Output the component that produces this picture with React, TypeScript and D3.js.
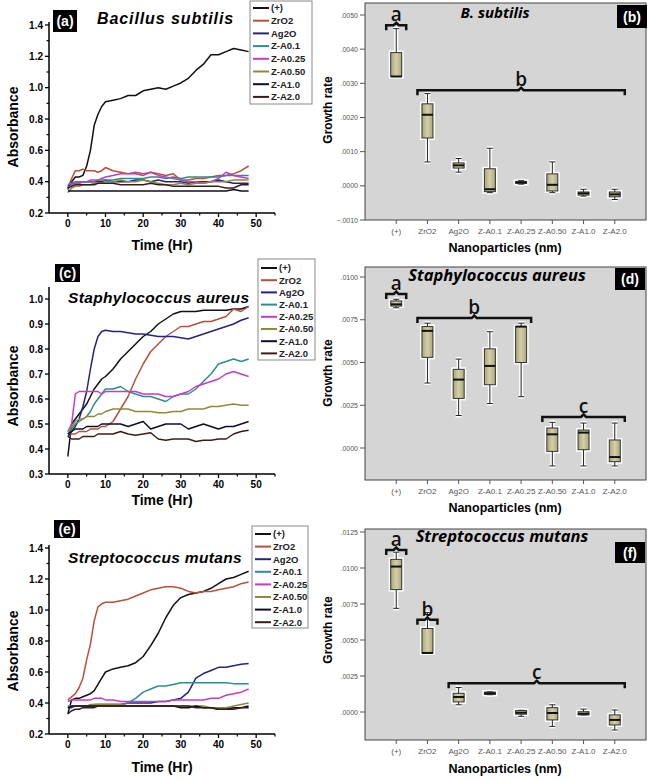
import React from "react";
import * as d3 from "d3";

// ---------- DATA ----------
const TIME = [0, 1, 2, 3, 4, 5, 6, 7, 8, 9, 10, 12, 14, 16, 18, 20, 22, 24, 26, 28, 30, 32, 34, 36, 38, 40, 42, 44, 46, 48];
const SERIES = ["(+)", "ZrO2", "Ag2O", "Z-A0.1", "Z-A0.25", "Z-A0.50", "Z-A1.0", "Z-A2.0"];
const COLORS = ["#111111", "#b5523b", "#24247c", "#2f8c8c", "#c43cc4", "#8c8a3c", "#0d0d2a", "#3b1c1c"];

// Bacillus subtilis absorbance
const A_POS = [0.35, 0.40, 0.43, 0.43, 0.44, 0.50, 0.60, 0.76, 0.83, 0.88, 0.91, 0.92, 0.93, 0.95, 0.95, 0.98, 0.99, 1.00, 0.99, 1.01, 1.03, 1.06, 1.11, 1.15, 1.21, 1.21, 1.23, 1.25, 1.24, 1.23];
const A_ZRO2 = [0.36, 0.42, 0.47, 0.47, 0.48, 0.47, 0.47, 0.47, 0.46, 0.47, 0.49, 0.47, 0.46, 0.45, 0.45, 0.44, 0.46, 0.45, 0.44, 0.45, 0.41, 0.41, 0.42, 0.42, 0.43, 0.44, 0.44, 0.45, 0.47, 0.50];
const A_AG2O = [0.37, 0.39, 0.39, 0.39, 0.40, 0.40, 0.40, 0.40, 0.40, 0.40, 0.41, 0.40, 0.40, 0.40, 0.41, 0.41, 0.40, 0.41, 0.40, 0.40, 0.40, 0.39, 0.40, 0.40, 0.40, 0.41, 0.40, 0.39, 0.39, 0.39];
const A_ZA01 = [0.38, 0.39, 0.40, 0.40, 0.40, 0.40, 0.40, 0.40, 0.41, 0.41, 0.41, 0.41, 0.42, 0.42, 0.42, 0.42, 0.43, 0.43, 0.42, 0.43, 0.42, 0.43, 0.43, 0.43, 0.43, 0.43, 0.44, 0.44, 0.44, 0.44];
const A_ZA025 = [0.36, 0.38, 0.39, 0.39, 0.40, 0.40, 0.41, 0.41, 0.41, 0.42, 0.43, 0.44, 0.45, 0.45, 0.46, 0.45, 0.46, 0.44, 0.43, 0.42, 0.41, 0.40, 0.40, 0.39, 0.40, 0.42, 0.46, 0.44, 0.43, 0.42];
const A_ZA050 = [0.33, 0.36, 0.37, 0.37, 0.38, 0.38, 0.38, 0.39, 0.39, 0.39, 0.40, 0.40, 0.41, 0.40, 0.40, 0.41, 0.40, 0.39, 0.38, 0.38, 0.39, 0.38, 0.39, 0.39, 0.40, 0.40, 0.40, 0.41, 0.41, 0.41];
const A_ZA10 = [0.34, 0.34, 0.34, 0.34, 0.34, 0.34, 0.34, 0.34, 0.34, 0.34, 0.34, 0.34, 0.34, 0.34, 0.34, 0.34, 0.34, 0.34, 0.34, 0.34, 0.34, 0.34, 0.34, 0.34, 0.34, 0.34, 0.34, 0.35, 0.34, 0.34];
const A_ZA20 = [0.36, 0.37, 0.38, 0.38, 0.38, 0.38, 0.38, 0.38, 0.39, 0.39, 0.39, 0.39, 0.38, 0.38, 0.38, 0.38, 0.39, 0.38, 0.38, 0.37, 0.37, 0.37, 0.37, 0.37, 0.37, 0.37, 0.36, 0.36, 0.38, 0.38];

// Staphylococcus aureus absorbance
const C_POS = [0.37, 0.50, 0.52, 0.54, 0.56, 0.58, 0.61, 0.64, 0.66, 0.68, 0.69, 0.72, 0.76, 0.79, 0.82, 0.85, 0.87, 0.90, 0.92, 0.94, 0.95, 0.95, 0.95, 0.955, 0.955, 0.955, 0.955, 0.96, 0.96, 0.97];
const C_ZRO2 = [0.45, 0.46, 0.46, 0.47, 0.47, 0.47, 0.48, 0.48, 0.48, 0.49, 0.49, 0.51, 0.56, 0.61, 0.68, 0.74, 0.79, 0.82, 0.85, 0.87, 0.89, 0.89, 0.90, 0.91, 0.91, 0.92, 0.93, 0.96, 0.95, 0.97];
const C_AG2O = [0.45, 0.47, 0.49, 0.52, 0.57, 0.63, 0.72, 0.80, 0.85, 0.87, 0.875, 0.87, 0.87, 0.865, 0.86, 0.86, 0.855, 0.85, 0.85, 0.85, 0.845, 0.84, 0.85, 0.86, 0.87, 0.88, 0.89, 0.90, 0.915, 0.925];
const C_ZA01 = [0.46, 0.48, 0.50, 0.51, 0.52, 0.53, 0.55, 0.58, 0.60, 0.62, 0.64, 0.64, 0.65, 0.63, 0.62, 0.61, 0.61, 0.60, 0.59, 0.61, 0.62, 0.62, 0.64, 0.67, 0.70, 0.74, 0.75, 0.76, 0.75, 0.76];
const C_ZA025 = [0.47, 0.50, 0.62, 0.63, 0.63, 0.63, 0.63, 0.63, 0.63, 0.62, 0.63, 0.63, 0.63, 0.63, 0.63, 0.62, 0.62, 0.62, 0.61, 0.61, 0.62, 0.63, 0.65, 0.66, 0.67, 0.68, 0.70, 0.71, 0.70, 0.69];
const C_ZA050 = [0.47, 0.49, 0.51, 0.52, 0.52, 0.53, 0.53, 0.53, 0.54, 0.54, 0.55, 0.56, 0.56, 0.56, 0.55, 0.55, 0.55, 0.545, 0.545, 0.55, 0.55, 0.56, 0.56, 0.56, 0.57, 0.57, 0.575, 0.58, 0.575, 0.575];
const C_ZA10 = [0.46, 0.47, 0.48, 0.48, 0.48, 0.49, 0.49, 0.49, 0.49, 0.50, 0.50, 0.50, 0.50, 0.49, 0.50, 0.51, 0.48, 0.49, 0.50, 0.50, 0.50, 0.48, 0.49, 0.50, 0.49, 0.48, 0.49, 0.49, 0.50, 0.51];
const C_ZA20 = [0.45, 0.44, 0.44, 0.44, 0.45, 0.45, 0.45, 0.45, 0.46, 0.46, 0.46, 0.46, 0.47, 0.46, 0.455, 0.46, 0.465, 0.44, 0.435, 0.44, 0.44, 0.44, 0.43, 0.435, 0.435, 0.44, 0.44, 0.46, 0.47, 0.475];

// Streptococcus mutans absorbance
const E_POS = [0.33, 0.42, 0.43, 0.43, 0.44, 0.45, 0.46, 0.48, 0.52, 0.56, 0.60, 0.62, 0.63, 0.64, 0.66, 0.70, 0.77, 0.85, 0.95, 1.03, 1.08, 1.10, 1.11, 1.12, 1.14, 1.17, 1.20, 1.21, 1.23, 1.25];
const E_ZRO2 = [0.42, 0.44, 0.46, 0.50, 0.56, 0.68, 0.78, 0.93, 1.02, 1.04, 1.05, 1.05, 1.06, 1.07, 1.09, 1.11, 1.13, 1.14, 1.15, 1.15, 1.14, 1.12, 1.11, 1.12, 1.12, 1.13, 1.14, 1.15, 1.17, 1.18];
const E_AG2O = [0.37, 0.37, 0.38, 0.38, 0.38, 0.38, 0.38, 0.39, 0.39, 0.39, 0.39, 0.39, 0.39, 0.40, 0.40, 0.40, 0.40, 0.41, 0.41, 0.42, 0.43, 0.47, 0.56, 0.59, 0.61, 0.63, 0.63, 0.64, 0.65, 0.655];
const E_ZA01 = [0.38, 0.38, 0.38, 0.38, 0.38, 0.38, 0.38, 0.38, 0.39, 0.39, 0.39, 0.39, 0.39, 0.40, 0.43, 0.47, 0.49, 0.51, 0.51, 0.52, 0.53, 0.53, 0.53, 0.53, 0.53, 0.53, 0.53, 0.525, 0.525, 0.525];
const E_ZA025 = [0.41, 0.42, 0.42, 0.42, 0.42, 0.42, 0.42, 0.43, 0.43, 0.43, 0.42, 0.42, 0.41, 0.41, 0.41, 0.41, 0.41, 0.41, 0.41, 0.42, 0.42, 0.42, 0.42, 0.42, 0.43, 0.43, 0.45, 0.46, 0.47, 0.49];
const E_ZA050 = [0.38, 0.38, 0.38, 0.38, 0.38, 0.38, 0.39, 0.39, 0.39, 0.39, 0.39, 0.39, 0.39, 0.38, 0.38, 0.38, 0.38, 0.38, 0.38, 0.38, 0.38, 0.38, 0.38, 0.38, 0.37, 0.37, 0.37, 0.38, 0.39, 0.40];
const E_ZA10 = [0.37, 0.38, 0.38, 0.38, 0.38, 0.38, 0.38, 0.38, 0.38, 0.38, 0.38, 0.38, 0.38, 0.38, 0.38, 0.38, 0.38, 0.38, 0.38, 0.38, 0.37, 0.37, 0.38, 0.37, 0.37, 0.36, 0.36, 0.37, 0.37, 0.38];
const E_ZA20 = [0.33, 0.35, 0.36, 0.36, 0.37, 0.37, 0.37, 0.37, 0.38, 0.38, 0.38, 0.38, 0.38, 0.38, 0.38, 0.38, 0.38, 0.38, 0.38, 0.38, 0.38, 0.38, 0.37, 0.37, 0.37, 0.36, 0.36, 0.36, 0.37, 0.37];

// Growth-rate box plots: [whiskerLow, q1, median, q3, whiskerHigh]
const CATEGORIES = ["(+)", "ZrO2", "Ag2O", "Z-A0.1", "Z-A0.25", "Z-A0.50", "Z-A1.0", "Z-A2.0"];
const B_BOXES = [
  [0.0032, 0.0032, 0.0032, 0.0039, 0.0046],
  [0.0007, 0.0014, 0.00208, 0.0024, 0.0027],
  [0.0004, 0.00052, 0.0006, 0.00067, 0.0008],
  [-0.0002, -0.00017, -0.0001, 0.0005, 0.0011],
  [0.00005, 0.00008, 0.0001, 0.00013, 0.00015],
  [-0.0002, -0.00015, 0.00003, 0.00035, 0.0007],
  [-0.0003, -0.00027, -0.00022, -0.00018, -0.0001],
  [-0.0004, -0.00032, -0.00025, -0.00018, -0.0001],
];
const D_BOXES = [
  [0.0082, 0.0083, 0.0084, 0.0086, 0.0087],
  [0.0038, 0.0053, 0.00685, 0.0071, 0.0073],
  [0.0019, 0.0029, 0.004, 0.0046, 0.0052],
  [0.0026, 0.0037, 0.0048, 0.0058, 0.0068],
  [0.003, 0.005, 0.0071, 0.0071, 0.0073],
  [-0.00105, -0.0002, 0.0008, 0.00117, 0.0015],
  [-0.00105, -0.0001, 0.0009, 0.00105, 0.00146],
  [-0.00105, -0.0008, -0.00053, 0.00047, 0.00146],
];
const F_BOXES = [
  [0.0072, 0.0085, 0.0101, 0.0106, 0.0111],
  [0.0041, 0.0041, 0.0041, 0.0058, 0.0069],
  [0.0005, 0.0007, 0.00104, 0.0013, 0.0017],
  [0.0012, 0.00122, 0.0013, 0.00138, 0.0014],
  [-0.0003, -0.00015, -0.00005, 0.0001, 0.00012],
  [-0.001, -0.00055, -0.00007, 0.0003, 0.0005],
  [-0.0002, -0.0002, -0.00012, 0.00002, 0.0002],
  [-0.00125, -0.0009, -0.00055, -0.0002, 0.00014],
];
// significance groups: [firstCategory, lastCategory, level, letter]
const B_GROUPS = [[0, 0, 0.0047, "a"], [1, 7, 0.0028, "b"]];
const D_GROUPS = [[0, 0, 0.009, "a"], [1, 4, 0.0076, "b"], [5, 7, 0.00182, "c"]];
const F_GROUPS = [[0, 0, 0.01125, "a"], [1, 1, 0.0064, "b"], [2, 7, 0.002, "c"]];

const B_TICKS = [-0.001, 0, 0.001, 0.002, 0.003, 0.004, 0.005];
const D_TICKS = [0, 0.0025, 0.005, 0.0075, 0.01];
const F_TICKS = [0, 0.0025, 0.005, 0.0075, 0.01, 0.0125];

const X_MAJOR = [0, 10, 20, 30, 40, 50];
const X_MINOR = [5, 15, 25, 35, 45, 55];

// ---------- COMPONENTS ----------
const SANS = "'Liberation Sans', Arial, sans-serif";
const TITLE_FONT = "'Open Sans', 'Liberation Sans', sans-serif";

function LinePanel(props: any) {
  const { data, yDomain, yRange, yTop, yMajor, yMinor, label, labelBox, title, titleX, titleY, titleSize, titleSpacing, legend, absY, timeY } = props;
  const x = d3.scaleLinear().domain([-5, 55]).range([49, 275]);
  const y = d3.scaleLinear().domain(yDomain).range(yRange);
  const axisY = yRange[0];
  const line = d3.line<number>().x((_, i) => x(TIME[i])).y((v) => y(v));
  return (
    <g>
      {data.map((s: number[], k: number) => (
        <path key={k} d={line(s) || ""} fill="none" stroke={COLORS[k]} strokeWidth={1.5} strokeLinejoin="round" />
      ))}
      {/* axes */}
      <line x1={49} x2={49} y1={axisY} y2={yTop} stroke="#000" strokeWidth={1.5} />
      <line x1={49} x2={275} y1={axisY} y2={axisY} stroke="#000" strokeWidth={1.5} />
      {yMajor.map((v: number) => (
        <g key={"ym" + v}>
          <line x1={45} x2={49} y1={y(v)} y2={y(v)} stroke="#000" strokeWidth={1.3} />
          <text x={43} y={y(v) + 3.5} textAnchor="end" fontSize={10} fontWeight="bold" fontFamily={SANS}>{d3.format(".1f")(v)}</text>
        </g>
      ))}
      {yMinor.map((v: number) => (
        <line key={"yn" + v} x1={46.5} x2={49} y1={y(v)} y2={y(v)} stroke="#000" strokeWidth={1.2} />
      ))}
      {X_MAJOR.map((v) => (
        <g key={"xm" + v}>
          <line x1={x(v)} x2={x(v)} y1={axisY} y2={axisY + 4} stroke="#000" strokeWidth={1.3} />
          <text x={x(v)} y={axisY + 14} textAnchor="middle" fontSize={10} fontWeight="bold" fontFamily={SANS}>{v}</text>
        </g>
      ))}
      {X_MINOR.map((v) => (
        <line key={"xn" + v} x1={x(v)} x2={x(v)} y1={axisY} y2={axisY + 2.5} stroke="#000" strokeWidth={1.2} />
      ))}
      <text x={162} y={timeY} textAnchor="middle" fontSize={14} fontWeight="bold" fontFamily={SANS}>Time (Hr)</text>
      <text transform={`translate(18,${absY}) rotate(-90)`} textAnchor="middle" fontSize={14} fontWeight="bold" fontFamily={SANS}>Absorbance</text>
      {/* label box */}
      <rect x={labelBox[0]} y={labelBox[1]} width={labelBox[2]} height={labelBox[3]} fill="#000" />
      <text x={labelBox[0] + labelBox[2] / 2} y={labelBox[1] + labelBox[3] / 2 + 5} textAnchor="middle" fill="#fff" fontSize={14} fontWeight="bold" fontFamily={SANS}>{label}</text>
      <text x={titleX} y={titleY} fontSize={titleSize} letterSpacing={titleSpacing} fontWeight="bold" fontStyle="italic" fontFamily={SANS}>{title}</text>
      {/* legend */}
      <rect x={legend.x} y={legend.y} width={legend.w} height={legend.h} fill="#fff" stroke="#888" strokeWidth={1} />
      {SERIES.map((s, k) => {
        const yy = legend.y0 + k * legend.step;
        return (
          <g key={"lg" + k}>
            <line x1={legend.x + 3} x2={legend.x + 19} y1={yy} y2={yy} stroke={COLORS[k]} strokeWidth={2} />
            <text x={legend.x + 21} y={yy + 3.3} fontSize={9.5} fontWeight="bold" fontFamily={SANS} fill="#222">{s}</text>
          </g>
        );
      })}
    </g>
  );
}

const fmtRate = (v: number) => d3.format(".4f")(v).replace("0.", ".");

function BoxPanel(props: any) {
  const { boxes, groups, yDomain, yRange, rectTop, rectBottom, ticks, title, titleX, titleY, titleSize, label, labelBox, growthY, nanoY } = props;
  const x = d3.scalePoint<string>().domain(CATEGORIES).range([365, 646]).padding(1);
  const y = d3.scaleLinear().domain(yDomain).range(yRange);
  const bw = 11;
  return (
    <g>
      <rect x={365} y={rectTop} width={281} height={rectBottom - rectTop} fill="#d5d5d5" stroke="#444" strokeWidth={1} />
      {ticks.map((t: number) => (
        <g key={"t" + t}>
          <line x1={360} x2={365} y1={y(t)} y2={y(t)} stroke="#555" strokeWidth={1} />
          <text x={358} y={y(t) + 2.5} textAnchor="end" fontSize={7} fill="#555" fontFamily={SANS}>{fmtRate(t)}</text>
        </g>
      ))}
      {CATEGORIES.map((c) => (
        <g key={"c" + c}>
          <line x1={x(c)} x2={x(c)} y1={rectBottom} y2={rectBottom + 4} stroke="#555" strokeWidth={1} />
          <text x={x(c)} y={rectBottom + 14} textAnchor="middle" fontSize={8} fill="#555" fontFamily={SANS}>{c}</text>
        </g>
      ))}
      {boxes.map((b: number[], i: number) => {
        const cx = x(CATEGORIES[i]) as number;
        const [lo, q1, md, q3, hi] = b;
        const h = Math.max(y(q1) - y(q3), 2);
        return (
          <g key={"b" + i}>
            {/* white halo */}
            <line x1={cx} x2={cx} y1={y(hi)} y2={y(lo)} stroke="#fff" strokeWidth={4} />
            <rect x={cx - bw / 2} y={y(q3)} width={bw} height={h} fill="none" stroke="#fff" strokeWidth={4} />
            <line x1={cx - 3} x2={cx + 3} y1={y(hi)} y2={y(hi)} stroke="#fff" strokeWidth={4} />
            <line x1={cx - 3} x2={cx + 3} y1={y(lo)} y2={y(lo)} stroke="#fff" strokeWidth={4} />
            {/* box */}
            <line x1={cx} x2={cx} y1={y(hi)} y2={y(lo)} stroke="#222" strokeWidth={1} />
            <line x1={cx - 3} x2={cx + 3} y1={y(hi)} y2={y(hi)} stroke="#222" strokeWidth={1} />
            <line x1={cx - 3} x2={cx + 3} y1={y(lo)} y2={y(lo)} stroke="#222" strokeWidth={1} />
            <rect x={cx - bw / 2} y={y(q3)} width={bw} height={h} fill="url(#boxfill)" stroke="#333" strokeWidth={1} />
            <line x1={cx - bw / 2} x2={cx + bw / 2} y1={y(md)} y2={y(md)} stroke="#111" strokeWidth={2} />
          </g>
        );
      })}
      {groups.map((g: any[], k: number) => {
        const x1 = (x(CATEGORIES[g[0]]) as number) - 10;
        const x2 = (x(CATEGORIES[g[1]]) as number) + 10;
        const yy = y(g[2]);
        const mid = (x1 + x2) / 2;
        const d = `M${x1},${yy + 5} L${x1},${yy} L${mid - 2.5},${yy} L${mid},${yy - 2.5} L${mid + 2.5},${yy} L${x2},${yy} L${x2},${yy + 5}`;
        return (
          <g key={"g" + k}>
            <path d={d} fill="none" stroke="#111" strokeWidth={2.5} />
            <text x={mid} y={yy - 4} textAnchor="middle" fontSize={19} fontFamily={TITLE_FONT} fontWeight={600} fill="#111">{g[3]}</text>
          </g>
        );
      })}
      <text x={titleX} y={titleY} textAnchor="middle" fontSize={titleSize} fontWeight="bold" fontStyle="italic" fontFamily={TITLE_FONT}>{title}</text>
      <rect x={labelBox[0]} y={labelBox[1]} width={labelBox[2]} height={labelBox[3]} fill="#000" />
      <text x={labelBox[0] + labelBox[2] / 2} y={labelBox[1] + labelBox[3] / 2 + 5} textAnchor="middle" fill="#fff" fontSize={14} fontWeight="bold" fontFamily={SANS}>{label}</text>
      <text transform={`translate(332,${growthY}) rotate(-90)`} textAnchor="middle" fontSize={12} fontWeight="bold" fontFamily={SANS}>Growth rate</text>
      <text x={505} y={nanoY} textAnchor="middle" fontSize={12.5} fontWeight="bold" fontFamily={SANS}>Nanoparticles (nm)</text>
    </g>
  );
}

export default function App() {
  return (
    <svg width={648} height={781} style={{ position: "absolute", left: 0, top: 0, background: "#fff" }}>
      <defs>
        <linearGradient id="boxfill" x1="0" x2="1" y1="0" y2="0">
          <stop offset="0" stopColor="#aaa67c" />
          <stop offset="0.5" stopColor="#d3cfa6" />
          <stop offset="1" stopColor="#aaa67c" />
        </linearGradient>
      </defs>
      <LinePanel
        data={[A_POS, A_ZRO2, A_AG2O, A_ZA01, A_ZA025, A_ZA050, A_ZA10, A_ZA20]}
        yDomain={[0.2, 1.4]} yRange={[213, 25]} yTop={22}
        yMajor={[0.2, 0.4, 0.6, 0.8, 1.0, 1.2, 1.4]} yMinor={[0.3, 0.5, 0.7, 0.9, 1.1, 1.3]}
        label="(a)" labelBox={[53, 10, 24, 22]} title="Bacillus subtilis" titleX={97} titleY={24}
        titleSize={16} titleSpacing={0.9}
        legend={{ x: 250, y: 1, w: 62, h: 103, y0: 8, step: 12.7 }} absY={127} timeY={250}
      />
      <LinePanel
        data={[C_POS, C_ZRO2, C_AG2O, C_ZA01, C_ZA025, C_ZA050, C_ZA10, C_ZA20]}
        yDomain={[0.3, 1.0]} yRange={[474, 299]} yTop={287}
        yMajor={[0.3, 0.4, 0.5, 0.6, 0.7, 0.8, 0.9, 1.0]} yMinor={[]}
        label="(c)" labelBox={[55, 264, 25, 18]} title="Staphylococcus aureus" titleX={68} titleY={303}
        titleSize={15.5} titleSpacing={0.35}
        legend={{ x: 258, y: 259, w: 57, h: 101, y0: 268, step: 12.2 }} absY={386} timeY={505}
      />
      <LinePanel
        data={[E_POS, E_ZRO2, E_AG2O, E_ZA01, E_ZA025, E_ZA050, E_ZA10, E_ZA20]}
        yDomain={[0.2, 1.4]} yRange={[734, 548]} yTop={545}
        yMajor={[0.2, 0.4, 0.6, 0.8, 1.0, 1.2, 1.4]} yMinor={[0.3, 0.5, 0.7, 0.9, 1.1, 1.3]}
        label="(e)" labelBox={[54, 520, 26, 18]} title="Streptococcus mutans" titleX={68} titleY={563}
        titleSize={15.5} titleSpacing={0.35}
        legend={{ x: 252, y: 526, w: 56, h: 102, y0: 534, step: 12.6 }} absY={651} timeY={772}
      />
      <BoxPanel
        boxes={B_BOXES} groups={B_GROUPS} yDomain={[-0.001, 0.005]} yRange={[220, 15]}
        rectTop={3} rectBottom={220} ticks={B_TICKS} title="B. subtilis" titleX={495} titleY={18} titleSize={15}
        label="(b)" labelBox={[617, 5, 30, 23]} growthY={110} nanoY={252}
      />
      <BoxPanel
        boxes={D_BOXES} groups={D_GROUPS} yDomain={[0, 0.01]} yRange={[448, 277]}
        rectTop={267} rectBottom={480} ticks={D_TICKS} title="Staphylococcus aureus" titleX={497} titleY={281} titleSize={16.5}
        label="(d)" labelBox={[615, 268, 30, 22]} growthY={373} nanoY={512}
      />
      <BoxPanel
        boxes={F_BOXES} groups={F_GROUPS} yDomain={[0, 0.0125]} yRange={[712, 532]}
        rectTop={529} rectBottom={740} ticks={F_TICKS} title="Streptococcus mutans" titleX={502} titleY={542} titleSize={16.5}
        label="(f)" labelBox={[615, 542, 30, 21]} growthY={630} nanoY={773}
      />
    </svg>
  );
}
